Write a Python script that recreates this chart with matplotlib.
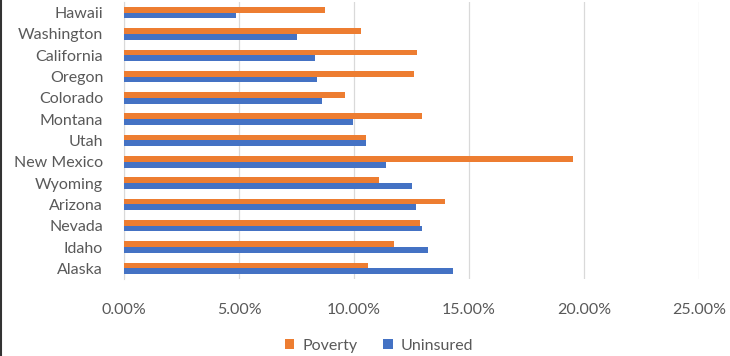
import numpy as np
import matplotlib
matplotlib.use("Agg")
import matplotlib.pyplot as plt
from matplotlib.ticker import FuncFormatter
from matplotlib.lines import Line2D

# states, listed bottom to top as drawn
states = ["Alaska", "Idaho", "Nevada", "Arizona", "Wyoming", "New Mexico", "Utah",
          "Montana", "Colorado", "Oregon", "California", "Washington", "Hawaii"]
poverty = [10.6, 11.75, 12.85, 13.95, 11.1, 19.5, 10.5,
           12.95, 9.6, 12.6, 12.75, 10.3, 8.75]
uninsured = [14.3, 13.2, 12.95, 12.7, 12.5, 11.4, 10.5,
             9.95, 8.6, 8.4, 8.3, 7.5, 4.85]

plt.rcParams['font.family'] = ['Lato', 'DejaVu Sans']
txt = '#595959'

fig = plt.figure(figsize=(7.3, 3.56), dpi=100)
ax = fig.add_axes([124/730, 1 - 279/356, (699 - 124)/730, 277/356])

y = np.arange(len(states))
h = 0.27
ax.barh(y + h/2, poverty, height=h, color='#ED7D31', label='Poverty', zorder=3)
ax.barh(y - h/2, uninsured, height=h, color='#4472C4', label='Uninsured', zorder=3)

ax.set_xlim(0, 25)
ax.set_ylim(-0.5, len(states) - 0.5)
ax.set_xticks(np.arange(0, 26, 5))
ax.xaxis.set_major_formatter(FuncFormatter(lambda v, p: f'{v:.2f}%'))
ax.set_yticks(y)
ax.set_yticklabels(states)
ax.grid(axis='x', color='#D9D9D9', linewidth=0.9, zorder=0)
for s in ['top', 'right', 'bottom']:
    ax.spines[s].set_visible(False)
ax.spines['left'].set_color('#D9D9D9')
ax.tick_params(axis='both', length=0, labelsize=11.5, colors=txt)
ax.tick_params(axis='x', pad=17)
ax.tick_params(axis='y', pad=15)

fig.legend(loc='center', bbox_to_anchor=(0.519, 1 - 346/356), ncol=2, frameon=False,
           fontsize=11.5, labelcolor=txt, handlelength=0.6, handleheight=0.6,
           columnspacing=1.6, handletextpad=0.5)

# dark edge on the left of the screenshot
fig.add_artist(Line2D([0.002, 0.002], [0, 1], transform=fig.transFigure, color='#333333', linewidth=1.5))

fig.savefig('out.png', dpi=100)
